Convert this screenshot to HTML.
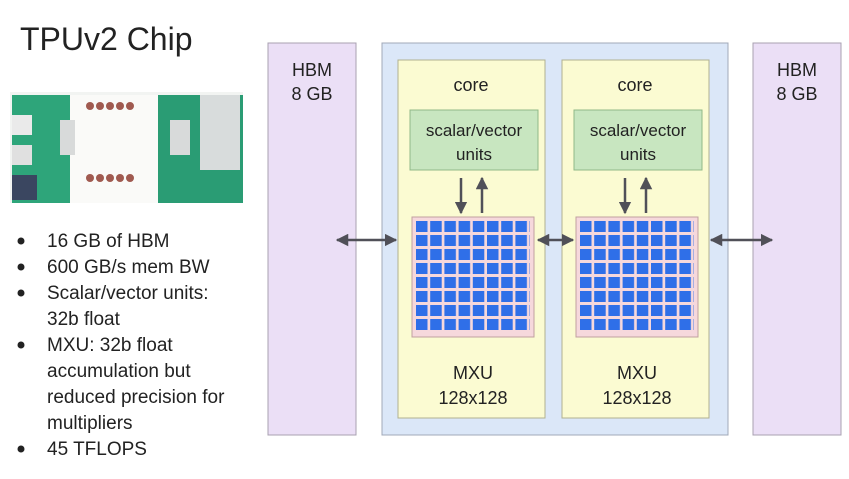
<!DOCTYPE html>
<html><head><style>
body{margin:0;background:#fff;width:849px;height:474px;overflow:hidden}
svg text{font-family:"Liberation Sans",Arial,sans-serif;fill:#222}
</style></head><body>
<svg width="849" height="474" viewBox="0 0 849 474" xmlns="http://www.w3.org/2000/svg">
<defs>
<marker id="ah" viewBox="0 0 10 10" refX="9" refY="5" markerWidth="5" markerHeight="5" orient="auto-start-reverse"><path d="M0,0L10,5L0,10z" fill="#505058"/></marker>
<pattern id="g1" x="416" y="221" width="14.2" height="14" patternUnits="userSpaceOnUse"><rect width="11.5" height="11" fill="#2f6fe8"/></pattern>
<pattern id="g2" x="580" y="221" width="14.2" height="14" patternUnits="userSpaceOnUse"><rect width="11.5" height="11" fill="#2f6fe8"/></pattern>
</defs>
<text x="20" y="50" font-size="32">TPUv2 Chip</text>
<rect x="10" y="92" width="233" height="111" fill="#f2f4f2"/>
<rect x="12" y="95" width="58" height="108" fill="#2ea57a"/>
<rect x="70" y="95" width="90" height="108" fill="#fafaf8"/>
<rect x="158" y="95" width="85" height="108" fill="#2a9c74"/>
<rect x="200" y="95" width="40" height="75" fill="#d8dcdc"/>
<rect x="12" y="175" width="25" height="25" fill="#3a4660"/>
<rect x="12" y="115" width="20" height="20" fill="#eaeaea"/>
<rect x="12" y="145" width="20" height="20" fill="#e0e0e0"/>
<rect x="60" y="120" width="15" height="35" fill="#d8dada"/>
<rect x="170" y="120" width="20" height="35" fill="#d8dada"/>
<g fill="#a05a50"><circle cx="90" cy="106" r="4"/><circle cx="100" cy="106" r="4"/><circle cx="110" cy="106" r="4"/><circle cx="120" cy="106" r="4"/><circle cx="130" cy="106" r="4"/>
<circle cx="90" cy="178" r="4"/><circle cx="100" cy="178" r="4"/><circle cx="110" cy="178" r="4"/><circle cx="120" cy="178" r="4"/><circle cx="130" cy="178" r="4"/></g>
<g font-size="19">
<g fill="#222"><circle cx="21" cy="241" r="3.5"/><circle cx="21" cy="267" r="3.5"/><circle cx="21" cy="293" r="3.5"/><circle cx="21" cy="345" r="3.5"/><circle cx="21" cy="449" r="3.5"/></g>
<text x="47" y="247">16 GB of HBM</text>
<text x="47" y="273">600 GB/s mem BW</text>
<text x="47" y="299">Scalar/vector units:</text>
<text x="47" y="325">32b float</text>
<text x="47" y="351">MXU: 32b float</text>
<text x="47" y="377">accumulation but</text>
<text x="47" y="403">reduced precision for</text>
<text x="47" y="429">multipliers</text>
<text x="47" y="455">45 TFLOPS</text>
</g>
<rect x="268" y="43" width="88" height="392" fill="#ebdff6" stroke="#a8a0b0"/>
<rect x="753" y="43" width="88" height="392" fill="#ebdff6" stroke="#a8a0b0"/>
<g font-size="18"><text x="312" y="76" text-anchor="middle">HBM</text><text x="312" y="100" text-anchor="middle">8 GB</text>
<text x="797" y="76" text-anchor="middle">HBM</text><text x="797" y="100" text-anchor="middle">8 GB</text></g>
<rect x="382" y="43" width="346" height="392" fill="#dbe7f8" stroke="#a0a8b8"/>
<g id="c">
<rect x="398" y="60" width="147" height="358" fill="#fbfbd2" stroke="#b0b090"/>
<text x="471" y="91" font-size="18" text-anchor="middle">core</text>
<rect x="410" y="110" width="128" height="60" fill="#c8e6c0" stroke="#90b888"/>
<text x="474" y="136" font-size="17" text-anchor="middle">scalar/vector</text>
<text x="474" y="160" font-size="17" text-anchor="middle">units</text>
<line x1="461" y1="178" x2="461" y2="213" stroke="#505058" stroke-width="2.5" marker-end="url(#ah)"/>
<line x1="482" y1="213" x2="482" y2="178" stroke="#505058" stroke-width="2.5" marker-end="url(#ah)"/>
<rect x="412" y="217" width="122" height="120" fill="#f6d8dc" stroke="#c0a0a0"/>
<text x="473" y="379" font-size="18" text-anchor="middle">MXU</text>
<text x="473" y="404" font-size="18" text-anchor="middle">128x128</text>
</g>
<use href="#c" x="164"/>
<rect x="416" y="221" width="114" height="112" fill="url(#g1)"/>
<rect x="580" y="221" width="114" height="112" fill="url(#g2)"/>
<g stroke="#505058" stroke-width="2.5">
<line x1="337" y1="240" x2="396" y2="240" marker-start="url(#ah)" marker-end="url(#ah)"/>
<line x1="538" y1="240" x2="573" y2="240" marker-start="url(#ah)" marker-end="url(#ah)"/>
<line x1="711" y1="240" x2="772" y2="240" marker-start="url(#ah)" marker-end="url(#ah)"/>
</g>
</svg>
</body></html>
